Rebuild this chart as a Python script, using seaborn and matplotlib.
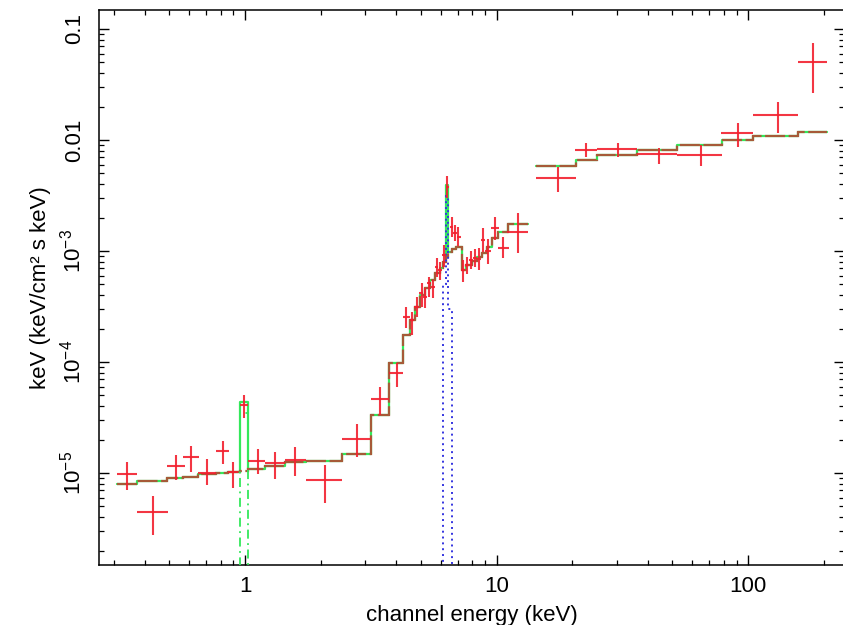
import numpy as np
import matplotlib
matplotlib.use("Agg")
import matplotlib.pyplot as plt
from matplotlib.ticker import FixedLocator, FixedFormatter, LogLocator, NullFormatter
import pandas as pd
import seaborn as sns

# ---------------- unfolded spectrum (keV, keV^2 ph / cm^2 s keV) ----------------
energy = [0.340, 0.430, 0.532, 0.610, 0.708, 0.815, 0.899, 0.991, 1.13, 1.32, 1.58,
          2.08, 2.80, 3.44, 4.01, 4.37, 4.60, 4.82, 5.04, 5.20, 5.41, 5.61, 5.78,
          5.96, 6.20, 6.37, 6.64, 6.84, 7.05, 7.38, 7.65, 7.90, 8.21, 8.54, 8.81,
          9.28, 9.86, 10.6, 12.2, 17.5, 22.7, 30.5, 44.3, 65.0, 91.4, 131.0, 182.0]
energy_lo = [0.309, 0.373, 0.489, 0.568, 0.652, 0.767, 0.859, 0.955, 1.03, 1.20, 1.44,
             1.74, 2.42, 3.16, 3.75, 4.26, 4.53, 4.71, 4.93, 5.12, 5.30, 5.51, 5.69,
             5.87, 6.08, 6.28, 6.55, 6.74, 6.94, 7.25, 7.51, 7.77, 8.05, 8.37, 8.67,
             9.03, 9.55, 10.1, 11.0, 14.4, 20.5, 25.0, 36.1, 52.0, 78.1, 105.0, 158.0]
energy_hi = [0.373, 0.493, 0.575, 0.658, 0.767, 0.866, 0.940, 1.025, 1.20, 1.44, 1.74,
             2.42, 3.16, 3.75, 4.26, 4.53, 4.71, 4.93, 5.12, 5.30, 5.51, 5.69, 5.87,
             6.08, 6.28, 6.45, 6.74, 6.94, 7.20, 7.51, 7.77, 8.05, 8.37, 8.67, 9.03,
             9.55, 10.2, 11.2, 13.4, 20.7, 25.0, 36.1, 52.0, 78.5, 105.0, 158.0, 207.0]
flux = [9.7e-6, 4.48e-6, 1.156e-5, 1.40e-5, 9.9e-6, 1.58e-5, 1.03e-5, 4.1e-5, 1.29e-5,
        1.22e-5, 1.31e-5, 8.65e-6, 2.04e-5, 4.6e-5, 7.9e-5, 2.56e-4, 2.39e-4, 3.15e-4,
        4.16e-4, 3.87e-4, 5.12e-4, 4.77e-4, 7.23e-4, 6.75e-4, 9.2e-4, 3.8e-3, 1.66e-3,
        1.46e-3, 1.35e-3, 6.75e-4, 7.5e-4, 8.3e-4, 8.6e-4, 8.5e-4, 1.26e-3, 9.9e-4,
        1.61e-3, 1.06e-3, 1.49e-3, 4.57e-3, 8.07e-3, 8.24e-3, 7.48e-3, 7.33e-3, 1.15e-2,
        1.68e-2, 5.07e-2]
flux_lo = [7.0e-6, 2.76e-6, 8.65e-6, 1.03e-5, 7.8e-6, 1.21e-5, 7.4e-6, 3.1e-5, 9.7e-6,
           8.8e-6, 9.4e-6, 5.4e-6, 1.38e-5, 3.33e-5, 6.0e-5, 2.01e-4, 1.75e-4, 2.56e-4,
           3.15e-4, 3.05e-4, 3.87e-4, 3.75e-4, 5.87e-4, 5.48e-4, 7.23e-4, 3.0e-3, 1.35e-3,
           1.24e-3, 1.10e-3, 5.28e-4, 6.2e-4, 6.9e-4, 7.2e-4, 6.7e-4, 9.8e-4, 7.7e-4,
           1.26e-3, 8.6e-4, 9.5e-4, 3.42e-3, 6.98e-3, 7.08e-3, 6.08e-3, 5.86e-3, 8.7e-3,
           1.16e-2, 2.67e-2]
flux_hi = [1.26e-5, 6.2e-6, 1.45e-5, 1.76e-5, 1.34e-5, 1.94e-5, 1.26e-5, 5.05e-5, 1.64e-5,
           1.56e-5, 1.73e-5, 1.18e-5, 2.75e-5, 6.0e-5, 9.7e-5, 3.15e-4, 2.84e-4, 3.87e-4,
           5.12e-4, 4.61e-4, 5.87e-4, 5.48e-4, 8.6e-4, 8.0e-4, 1.13e-3, 4.7e-3, 2.04e-3,
           1.72e-3, 1.66e-3, 8.3e-4, 8.9e-4, 1.0e-3, 1.04e-3, 1.07e-3, 1.6e-3, 1.27e-3,
           2.03e-3, 1.34e-3, 2.2e-3, 5.74e-3, 9.33e-3, 9.46e-3, 8.41e-3, 9.02e-3, 1.43e-2,
           2.19e-2, 7.43e-2]

# ---------------- binned model ----------------
model_edges_soft = [0.309, 0.373, 0.488, 0.568, 0.652, 0.767, 0.858, 0.955, 1.025, 1.20,
                    1.44, 1.74, 2.42, 3.16, 3.75, 4.26, 4.53, 4.74, 4.96, 5.20, 5.44,
                    5.69, 5.96, 6.13, 6.27, 6.44, 6.65, 6.90, 7.27, 7.56, 7.97, 8.34,
                    8.73, 9.14, 9.57, 10.17, 11.14, 13.38]
model_soft = [7.96e-6, 8.52e-6, 8.96e-6, 9.26e-6, 9.73e-6, 1.006e-5, 1.027e-5, 4.39e-5,
              1.08e-5, 1.168e-5, 1.256e-5, 1.282e-5, 1.483e-5, 3.33e-5, 9.86e-5, 1.75e-4,
              2.39e-4, 3.15e-4, 4.01e-4, 4.61e-4, 5.48e-4, 6.30e-4, 6.98e-4, 8.0e-4,
              3.93e-3, 9.86e-4, 1.04e-3, 1.09e-3, 6.74e-4, 7.48e-4, 8.18e-4, 8.77e-4,
              9.65e-4, 1.08e-3, 1.30e-3, 1.49e-3, 1.75e-3]
continuum_soft = [7.96e-6, 8.52e-6, 8.96e-6, 9.26e-6, 9.73e-6, 1.006e-5, 1.027e-5, 1.05e-5,
                  1.08e-5, 1.168e-5, 1.256e-5, 1.282e-5, 1.483e-5, 3.33e-5, 9.86e-5, 1.75e-4,
                  2.39e-4, 3.15e-4, 4.01e-4, 4.61e-4, 5.48e-4, 6.30e-4, 6.98e-4, 8.0e-4,
                  8.9e-4, 9.86e-4, 1.04e-3, 1.09e-3, 6.74e-4, 7.48e-4, 8.18e-4, 8.77e-4,
                  9.65e-4, 1.08e-3, 1.30e-3, 1.49e-3, 1.75e-3]
model_edges_hard = [14.36, 20.7, 25.0, 36.1, 52.0, 78.6, 105.0, 158.0, 207.0]
model_hard = [5.87e-3, 6.61e-3, 7.33e-3, 8.13e-3, 9.02e-3, 1.00e-2, 1.09e-2, 1.19e-2]

# emission-line components
line1_edges = [0.955, 1.025]
line1_flux = [3.47e-5]
fe_edges = [6.13, 6.27, 6.44, 6.65]
fe_flux = [5.0e-4, 3.1e-3, 3.0e-4]

x_ticks = [1, 10, 100]
x_ticklabels = ["1", "10", "100"]
y_ticks = [1e-5, 1e-4, 1e-3, 1e-2, 1e-1]
y_ticklabels = [r"$10^{-5}$", r"$10^{-4}$", r"$10^{-3}$", "0.01", "0.1"]

RED = "#f2202e"
GREEN = "#33e85a"
BROWN = "#a65a38"
BLUE = "#3434e0"

sns.set_theme(style="ticks")
plt.rcParams["font.family"] = ["Liberation Sans", "DejaVu Sans"]
plt.rcParams["mathtext.fontset"] = "custom"
plt.rcParams["mathtext.rm"] = "Liberation Sans"
plt.rcParams["mathtext.it"] = "Liberation Sans:italic"
plt.rcParams["mathtext.bf"] = "Liberation Sans:bold"
plt.rcParams["mathtext.default"] = "regular"

fig = plt.figure(figsize=(8.43, 6.25), dpi=100)
ax = fig.add_axes([99 / 843, 60 / 625, 745 / 843, 555 / 625])
ax.set_xscale("log")
ax.set_yscale("log")


def step_frame(edges, values):
    return pd.DataFrame({"energy": edges, "flux": list(values) + [values[-1]]})


# total model
for edges, vals in [(model_edges_soft, model_soft), (model_edges_hard, model_hard)]:
    sns.lineplot(data=step_frame(edges, vals), x="energy", y="flux",
                 drawstyle="steps-post", estimator=None, sort=False,
                 color=GREEN, lw=1.6, ax=ax, zorder=2)

# continuum component
for edges, vals in [(model_edges_soft, continuum_soft), (model_edges_hard, model_hard)]:
    ax.stairs(vals, edges, baseline=None, color=BROWN, lw=1.6,
              linestyle=(0, (9, 1.6)), zorder=3)

# line components
ax.stairs(line1_flux, line1_edges, baseline=1e-9, color=GREEN, lw=1.3,
          linestyle=(0, (5, 2.5, 1, 2.5)), zorder=3)
ax.stairs(fe_flux, fe_edges, baseline=1e-9, color=BLUE, lw=1.4,
          linestyle=(0, (1, 2)), zorder=3)

# data crosses
e = np.array(energy)
f = np.array(flux)
ax.errorbar(e, f,
            xerr=[e - np.array(energy_lo), np.array(energy_hi) - e],
            yerr=[f - np.array(flux_lo), np.array(flux_hi) - f],
            fmt="none", ecolor=RED, elinewidth=1.5, capsize=0, alpha=0.9, zorder=5)

ax.set_xlim(0.2627, 240.8)
ax.set_ylim(1.483e-6, 0.1483)

ax.xaxis.set_major_locator(FixedLocator(x_ticks))
ax.xaxis.set_major_formatter(FixedFormatter(x_ticklabels))
ax.xaxis.set_minor_locator(LogLocator(base=10, subs=np.arange(2, 10), numticks=50))
ax.xaxis.set_minor_formatter(NullFormatter())
ax.yaxis.set_major_locator(FixedLocator(y_ticks))
ax.yaxis.set_major_formatter(FixedFormatter(y_ticklabels))
ax.yaxis.set_minor_locator(LogLocator(base=10, subs=np.arange(2, 10), numticks=50))
ax.yaxis.set_minor_formatter(NullFormatter())

ax.tick_params(which="both", direction="in", top=True, right=True, color="black",
               labelsize=16, labelcolor="black")
ax.tick_params(which="major", length=7.2, width=1.0)
ax.tick_params(which="minor", length=3.6, width=0.9)
ax.tick_params(axis="x", which="major", pad=8)
ax.tick_params(axis="y", which="major", pad=10)
for lbl in ax.get_yticklabels():
    lbl.set_rotation(90)
    lbl.set_va("center")

for sp in ax.spines.values():
    sp.set_color("black")
    sp.set_linewidth(1.1)

ax.set_xlabel("channel energy (keV)", fontsize=16, labelpad=6, color="black")
ax.set_ylabel("keV (keV/cm² s keV)", fontsize=16, labelpad=6, color="black")

fig.savefig("out.png", dpi=100)
